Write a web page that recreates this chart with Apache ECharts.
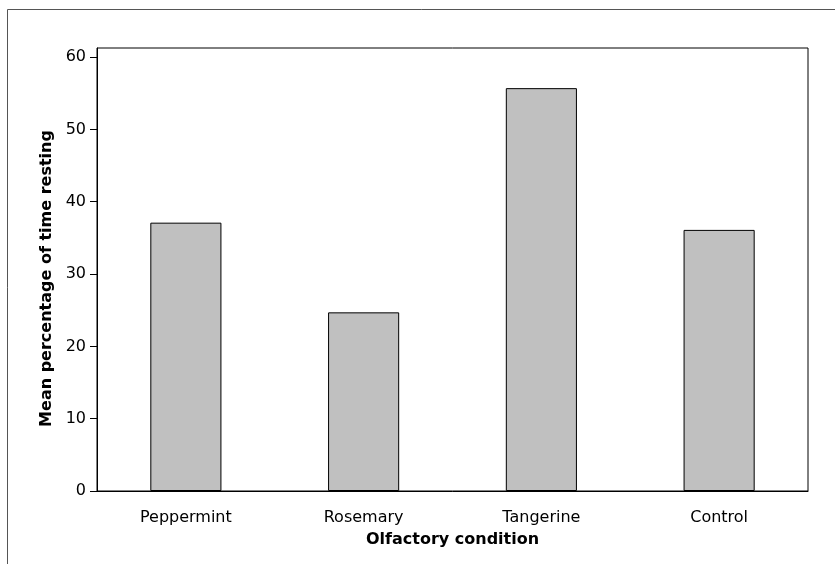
<!DOCTYPE html>
<html>
<head>
<meta charset="utf-8">
<script src="https://cdn.jsdelivr.net/npm/echarts@6/dist/echarts.min.js"></script>
<style>
  html, body { margin: 0; padding: 0; background: #fff; }
  #chart { width: 835px; height: 564px; }
</style>
</head>
<body>
<div id="chart"></div>
<script>
// olfactory condition vs resting time
var categories = ['Peppermint', 'Rosemary', 'Tangerine', 'Control'];
var restingPct = [37.1, 24.7, 55.7, 36.1];
var yTicks = [0, 10, 20, 30, 40, 50, 60];

var font = 'DejaVu Sans, Verdana, sans-serif';

var option = {
	animation : false,
	graphic : [
		{
			type : 'rect',
			silent : true,
			shape : { x : 7.5, y : 9.5, width : 900, height : 700 },
			style : { fill : 'none', stroke : '#555', lineWidth : 1 }
		}
	],
	grid : {
		left : 97,
		top : 48,
		width : 711,
		height : 443,
		show : true,
		borderColor : '#000',
		borderWidth : 1
	},
	xAxis : {
		type : 'category',
		data : categories,
		name : 'Olfactory condition',
		nameLocation : 'middle',
		nameGap : 41,
		nameTextStyle : { fontFamily : font, fontSize : 16, fontWeight : 'bold', color : '#000' },
		axisLine : { lineStyle : { color : '#000', width : 1 } },
		axisTick : { alignWithLabel : true, length : 7, lineStyle : { color : '#000' } },
		axisLabel : { fontFamily : font, fontSize : 16, color : '#000', margin : 19 }
	},
	yAxis : {
		type : 'value',
		min : 0,
		max : 61.25,
		name : 'Mean percentage of time resting',
		nameLocation : 'middle',
		nameGap : 42,
		nameTextStyle : { fontFamily : font, fontSize : 16, fontWeight : 'bold', color : '#000', padding : [0, 18, 0, 0] },
		axisLine : { show : true, lineStyle : { color : '#000', width : 1 } },
		axisTick : { show : true, length : 7, customValues : yTicks, lineStyle : { color : '#000' } },
		axisLabel : { fontFamily : font, fontSize : 16, color : '#000', margin : 11, customValues : yTicks },
		splitLine : { show : false }
	},
	series : [
		{
			type : 'bar',
			data : restingPct,
			barWidth : '40%',
			itemStyle : { color : '#c0c0c0', borderColor : '#000', borderWidth : 1 }
		}
	]
};

var chart = echarts.init(document.getElementById('chart'));
chart.setOption(option);
</script>
</body>
</html>
